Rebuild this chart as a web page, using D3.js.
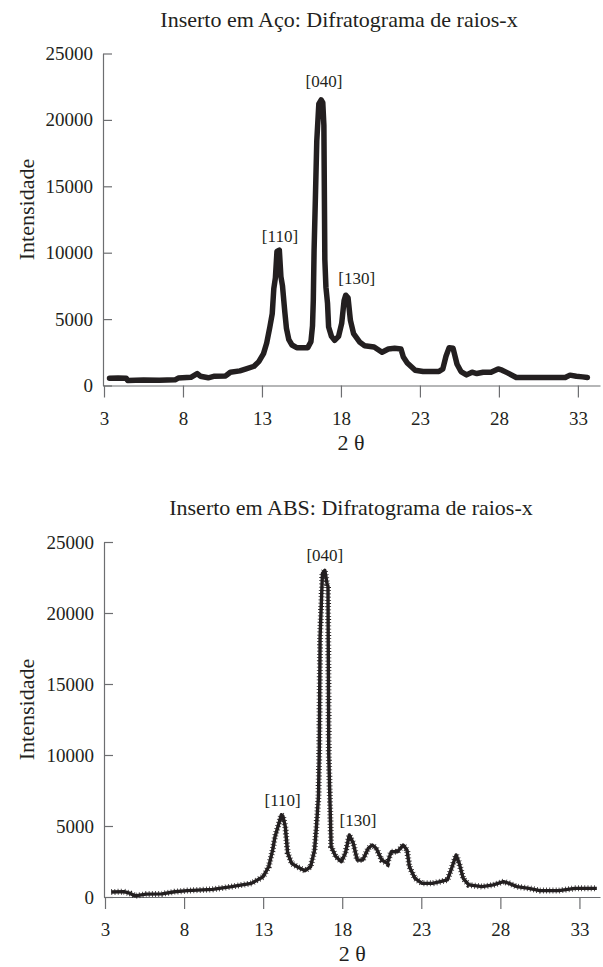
<!DOCTYPE html>
<html>
<head>
<meta charset="utf-8">
<script src="https://cdn.jsdelivr.net/npm/d3@7"></script>
<style>
  body { margin:0; background:#fff; }
  text { font-family: "Liberation Serif", "Times New Roman", serif; fill:#231f20; }
</style>
</head>
<body>
<svg id="chart" width="603" height="967"></svg>
<script>

// tick labels
var xTicks = [3, 8, 13, 18, 23, 28, 33];
var yTicks = [0, 5000, 10000, 15000, 20000, 25000];

// Inserto em Aco
var acoTheta = [3.35,3.9,4.4,4.5,5.5,6.5,7.5,7.7,8.5,8.9,9.1,9.6,10.0,10.7,11.0,11.6,12.0,12.5,12.8,13.1,13.3,13.5,13.65,13.75,13.85,13.95,14.1,14.2,14.3,14.45,14.55,14.7,14.9,15.2,15.9,16.1,16.2,16.25,16.3,16.38,16.47,16.6,16.75,16.85,16.92,16.98,17.05,17.15,17.22,17.4,17.6,17.85,18.05,18.2,18.3,18.45,18.6,18.8,19.2,19.5,20.1,20.6,21.0,21.4,21.8,21.95,22.2,22.7,23.2,24.2,24.45,24.65,24.85,25.1,25.35,25.6,25.95,26.3,26.6,27.0,27.5,27.95,28.2,28.55,29.1,32.2,32.5,32.9,33.3,33.6];
var acoInt = [550,560,550,380,420,400,430,560,620,900,700,580,700,720,1000,1100,1250,1450,1800,2400,3200,4400,5400,7300,8100,10100,10200,8200,7500,5500,4300,3450,3050,2850,2850,3300,4500,6400,10200,14000,18400,21200,21500,21300,19600,9500,7400,6200,4400,3700,3400,3700,4700,6400,6800,6600,4900,3900,3250,3000,2900,2500,2750,2800,2750,2150,1700,1150,1050,1050,1250,2200,2850,2800,1600,1050,800,1000,900,1000,1000,1250,1150,950,600,600,780,700,650,600];
var acoPeaks = ["[110]", "[040]", "[130]"];
var acoPeakTheta = [14.14, 16.92, 19.0];
var acoPeakInt = [10200, 21500, 6800];

// Inserto em ABS
var absTheta = [3.4,4.2,4.6,4.9,5.6,6.6,7.4,8.2,9.8,11.0,12.25,13.0,13.35,13.6,13.75,14.0,14.15,14.25,14.4,14.55,14.8,15.15,15.65,16.0,16.25,16.37,16.5,16.55,16.6,16.75,16.9,17.05,17.1,17.15,17.25,17.3,17.6,17.95,18.2,18.45,18.7,18.95,19.3,19.65,19.9,20.15,20.5,20.85,21.1,21.5,21.85,22.1,22.25,22.6,23.05,23.7,24.2,24.65,24.95,25.2,25.4,25.65,26.0,26.85,27.55,28.2,28.55,29.05,29.8,30.5,31.7,32.7,34.1];
var absInt = [350,380,250,80,200,220,370,450,540,730,960,1430,2130,3300,4250,5200,5800,5700,4950,3100,2370,2130,1850,2130,3300,4950,7100,10400,18300,22800,23000,22000,21900,10000,5650,3540,2840,2490,3080,4370,3780,2600,2600,3430,3660,3430,2600,2370,3190,3190,3660,3300,2130,1310,960,960,1080,1200,2130,2960,2370,1310,850,730,850,1080,960,730,610,450,450,610,610];
var absPeaks = ["[110]", "[040]", "[130]"];
var absPeakTheta = [14.23, 16.9, 19.0];
var absPeakInt = [5800, 23000, 4400];

var svg = d3.select('#chart');
var serif = '"Liberation Serif", "Times New Roman", serif';

function draw_panel(title, theta, inten, peaks, pTheta, pInt, top, bottom, x0, xEnd, xMax, titleX, fuzzy, peakDy){

  var x = d3.scaleLinear().domain([3, xMax]).range([x0, xEnd]);
  var y = d3.scaleLinear().domain([0, 25000]).range([bottom, top]);
  var axX = x0 - 1;

  svg.append('text')
     .attr('x', titleX).attr('y', top - 27)
     .attr('text-anchor', 'middle')
     .attr('font-family', serif).attr('font-size', 22)
     .text(title);

  var ya = svg.append('g')
     .attr('transform', 'translate(' + axX + ',0)')
     .call(d3.axisLeft(y).tickValues(yTicks).tickFormat(d3.format('d'))
             .tickSizeInner(-9).tickSizeOuter(0).tickPadding(10));
  var xa = svg.append('g')
     .attr('transform', 'translate(0,' + bottom + ')')
     .call(d3.axisBottom(x).tickValues(xTicks).tickFormat(d3.format('d'))
             .tickSizeInner(12).tickSizeOuter(0).tickPadding(14));
  [ya, xa].forEach(function(a){
    a.attr('font-family', serif).attr('font-size', 19);
    a.selectAll('path,line').attr('stroke', '#6d6e71').attr('stroke-width', 1.2);
    a.selectAll('text').attr('fill', '#231f20')
     .attr('font-family', serif).attr('font-size', 19);
  });

  svg.append('text')
     .attr('transform', 'translate(34,' + ((top + bottom) / 2 - 10) + ') rotate(-90)')
     .attr('text-anchor', 'middle')
     .attr('font-family', serif).attr('font-size', 22)
     .text('Intensidade');

  svg.append('text')
     .attr('x', (x(3) + x(33)) / 2 + 10).attr('y', bottom + 64)
     .attr('text-anchor', 'middle')
     .attr('font-family', serif).attr('font-size', 22)
     .text('2 θ');

  var pts = theta.map(function(t, i){ return [t, inten[i]]; });
  var line = d3.line().x(function(d){ return x(d[0]); }).y(function(d){ return y(d[1]); });

  if (fuzzy) {
    svg.append('path').datum(pts).attr('d', line)
       .attr('fill', 'none').attr('stroke', '#231f20').attr('stroke-width', 3.4)
       .attr('stroke-linejoin', 'round');
    svg.append('path').datum(pts).attr('d', line)
       .attr('fill', 'none').attr('stroke', '#231f20').attr('stroke-width', 6)
       .attr('stroke-dasharray', '0.8 2.4');
  } else {
    svg.append('path').datum(pts).attr('d', line)
       .attr('fill', 'none').attr('stroke', '#231f20').attr('stroke-width', 5.5)
       .attr('stroke-linejoin', 'round').attr('stroke-linecap', 'round');
  }

  svg.append('g').selectAll('text')
     .data(peaks).enter()
     .append('text')
     .attr('x', function(d, i){ return x(pTheta[i]); })
     .attr('y', function(d, i){ return y(pInt[i]) - peakDy[i]; })
     .attr('text-anchor', 'middle')
     .attr('font-family', serif).attr('font-size', 17)
     .text(function(d){ return d; });
}

draw_panel('Inserto em Aço: Difratograma de raios-x', acoTheta, acoInt, acoPeaks, acoPeakTheta, acoPeakInt,
           53.5, 385.5, 104, 600, 34.4, 339, false, [8, 13, 11.5]);
draw_panel('Inserto em ABS: Difratograma de raios-x', absTheta, absInt, absPeaks, absPeakTheta, absPeakInt,
           542, 897, 105, 600, 34.3, 351, true, [8.5, 9.5, 8.5]);

</script>
</body>
</html>
